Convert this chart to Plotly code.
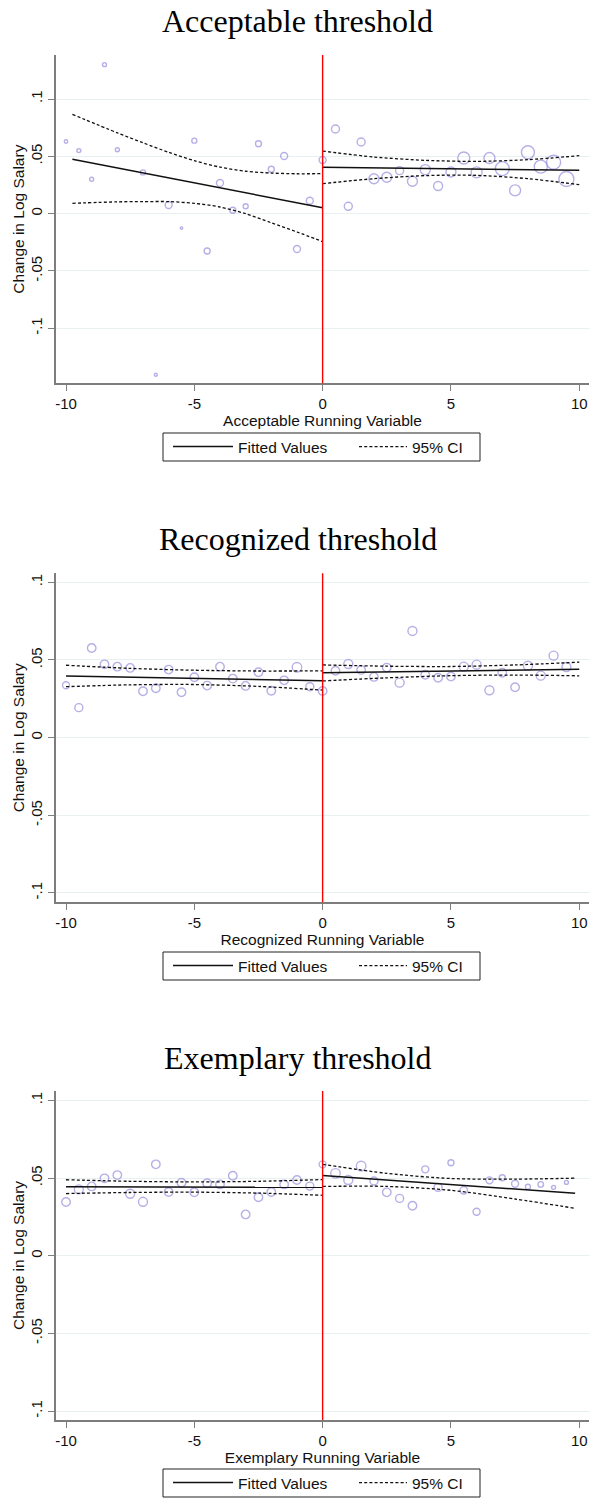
import plotly.graph_objects as go

W, H = 589, 1501

# ---------------- data ----------------
titles = ["Acceptable threshold", "Recognized threshold", "Exemplary threshold"]
xlabels = ["Acceptable Running Variable", "Recognized Running Variable", "Exemplary Running Variable"]
x_ticks = [-10, -5, 0, 5, 10]
y_ticks = [-0.1, -0.05, 0, 0.05, 0.1]
y_ticktext = ["-.1", "-.05", "0", ".05", ".1"]

# Panel 1: Acceptable
acc_x = [-10, -9.5, -9, -8.5, -8, -7, -6.5, -6, -5.5, -5, -4.5, -4, -3.5, -3, -2.5, -2, -1.5, -1, -0.5, 0,
         0.5, 1, 1.5, 2, 2.5, 3, 3.5, 4, 4.5, 5, 5.5, 6, 6.5, 7, 7.5, 8, 8.5, 9, 9.5]
acc_y = [0.0630, 0.0550, 0.0300, 0.1300, 0.0558, 0.0360, -0.1405, 0.0075, -0.0126, 0.0637, -0.0326, 0.0267,
         0.0029, 0.0064, 0.0610, 0.0387, 0.0503, -0.0309, 0.0113, 0.0468,
         0.0738, 0.0064, 0.0625, 0.0305, 0.0317, 0.0375, 0.0282, 0.0384, 0.0241, 0.0363, 0.0485, 0.0360,
         0.0485, 0.0393, 0.0203, 0.0535, 0.0410, 0.0448, 0.0302]
acc_size = [3.5, 4, 4, 4, 4, 5, 3, 7, 2.5, 5, 6, 7, 6, 5, 6, 6, 7, 7, 7, 7,
            8, 8, 8, 10, 10, 8, 10, 10, 9, 10, 12, 11, 11, 14, 11, 13, 13, 14, 15]
acc_fit_left_x = [-9.75, 0]
acc_fit_left_y = [0.0474, 0.0052]
acc_fit_right_x = [0, 10]
acc_fit_right_y = [0.0404, 0.0378]
acc_ci_left_x = [-9.75, -8, -7, -6, -5, -4, -3, -2, -1, 0]
acc_ci_left_hi = [0.0866, 0.0705, 0.0618, 0.0535, 0.0462, 0.0406, 0.0370, 0.0354, 0.0348, 0.0349]
acc_ci_left_lo = [0.0090, 0.0103, 0.0105, 0.0105, 0.0090, 0.0058, 0.0000, -0.0080, -0.0160, -0.0244]
acc_ci_right_x = [0, 2, 4, 6, 8, 10]
acc_ci_right_hi = [0.0546, 0.0494, 0.0465, 0.0456, 0.0471, 0.0506]
acc_ci_right_lo = [0.0262, 0.0305, 0.0332, 0.0334, 0.0305, 0.0253]

# Panel 2: Recognized
rec_x = [-10, -9.5, -9, -8.5, -8, -7.5, -7, -6.5, -6, -5.5, -5, -4.5, -4, -3.5, -3, -2.5, -2, -1.5, -1, -0.5, 0,
         0.5, 1, 1.5, 2, 2.5, 3, 3.5, 4, 4.5, 5, 5.5, 6, 6.5, 7, 7.5, 8, 8.5, 9, 9.5]
rec_y = [0.0337, 0.0193, 0.0577, 0.0472, 0.0457, 0.0449, 0.0299, 0.0318, 0.0438, 0.0292, 0.0389, 0.0335,
         0.0457, 0.0380, 0.0333, 0.0421, 0.0302, 0.0369, 0.0453, 0.0328, 0.0300,
         0.0431, 0.0474, 0.0436, 0.0391, 0.0451, 0.0354, 0.0687, 0.0405, 0.0386, 0.0393, 0.0457, 0.0470,
         0.0305, 0.0418, 0.0324, 0.0463, 0.0399, 0.0528, 0.0455]
rec_size = [7, 8, 8.5, 8.5, 8.5, 8.5, 8.5, 8.5, 8.5, 8.5, 8.5, 8.5, 8.5, 8.5, 8.5, 8.5, 8.5, 8.5, 9.5, 8, 8.5,
            8.5, 9, 8.5, 8.5, 8.5, 9, 9, 8.5, 8.5, 8.5, 9, 9, 9, 8.5, 8.5, 9, 9, 9, 9]
rec_fit_left_x = [-10, 0]
rec_fit_left_y = [0.0397, 0.0367]
rec_fit_right_x = [0, 10]
rec_fit_right_y = [0.0418, 0.0440]
rec_ci_left_x = [-10, -7.5, -5, -2.5, 0]
rec_ci_left_hi = [0.0466, 0.0446, 0.0434, 0.0429, 0.0430]
rec_ci_left_lo = [0.0328, 0.0340, 0.0342, 0.0330, 0.0306]
rec_ci_right_x = [0, 2.5, 5, 7.5, 10]
rec_ci_right_hi = [0.0468, 0.0460, 0.0458, 0.0468, 0.0486]
rec_ci_right_lo = [0.0365, 0.0385, 0.0399, 0.0403, 0.0398]

# Panel 3: Exemplary
exe_x = rec_x
exe_y = [0.0346, 0.0427, 0.0446, 0.0498, 0.0519, 0.0399, 0.0347, 0.0588, 0.0410, 0.0470, 0.0408, 0.0466,
         0.0459, 0.0515, 0.0266, 0.0376, 0.0410, 0.0459, 0.0487, 0.0448, 0.0588,
         0.0530, 0.0487, 0.0577, 0.0481, 0.0408, 0.0369, 0.0322, 0.0556, 0.0440, 0.0598, 0.0421, 0.0283,
         0.0485, 0.0502, 0.0463, 0.0444, 0.0459, 0.0440, 0.0472]
exe_size = [8.5, 9, 8.5, 8.5, 8.5, 9, 9, 8.5, 8.5, 8.5, 8.5, 8.5, 8.5, 8.5, 8.5, 8.5, 8.5, 8.5, 8.5, 8, 7,
            9.5, 9, 9.5, 8, 8.5, 8, 8.5, 7, 8, 6, 7.5, 7, 7, 6, 7, 5, 5.5, 4, 4]
exe_fit_left_x = [-10, 0]
exe_fit_left_y = [0.0444, 0.0440]
exe_fit_right_x = [0, 9.84]
exe_fit_right_y = [0.0517, 0.0402]
exe_ci_left_x = [-10, -7.5, -5, -2.5, 0]
exe_ci_left_hi = [0.0489, 0.0479, 0.0475, 0.0479, 0.0490]
exe_ci_left_lo = [0.0400, 0.0407, 0.0409, 0.0403, 0.0389]
exe_ci_right_x = [0, 2.5, 5, 7.5, 9.84]
exe_ci_right_hi = [0.0588, 0.0530, 0.0497, 0.0493, 0.0499]
exe_ci_right_lo = [0.0446, 0.0446, 0.0421, 0.0365, 0.0305]

# ---------------- layout geometry (pixels) ----------------
plot_left = 56
panel_px = [(55, 383.3), (573.3, 902.3), (1091, 1420)]
y_ranges = [[-0.148, 0.1384], [-0.106, 0.1058], [-0.1057, 0.106]]
x_range = [-10.39, 10.38]
title_px = [21, 539, 1058]
legend_box_px = [(433, 461), (952, 980), (1469, 1497)]
legend_box_x = (163, 480)
legend_fit_x = 168
legend_ci_x = 354

panels = [
    dict(x=acc_x, y=acc_y, s=acc_size,
         fl=(acc_fit_left_x, acc_fit_left_y), fr=(acc_fit_right_x, acc_fit_right_y),
         cl=(acc_ci_left_x, acc_ci_left_hi, acc_ci_left_lo), cr=(acc_ci_right_x, acc_ci_right_hi, acc_ci_right_lo)),
    dict(x=rec_x, y=rec_y, s=rec_size,
         fl=(rec_fit_left_x, rec_fit_left_y), fr=(rec_fit_right_x, rec_fit_right_y),
         cl=(rec_ci_left_x, rec_ci_left_hi, rec_ci_left_lo), cr=(rec_ci_right_x, rec_ci_right_hi, rec_ci_right_lo)),
    dict(x=exe_x, y=exe_y, s=exe_size,
         fl=(exe_fit_left_x, exe_fit_left_y), fr=(exe_fit_right_x, exe_fit_right_y),
         cl=(exe_ci_left_x, exe_ci_left_hi, exe_ci_left_lo), cr=(exe_ci_right_x, exe_ci_right_hi, exe_ci_right_lo)),
]

MARKER_COLOR = "#958fdc"
AXIS_COLOR = "#7d7d7d"
GRID_COLOR = "#e8f1f2"
TEXT_COLOR = "#111111"
SANS = "Liberation Sans, Arial, sans-serif"
SERIF = "Liberation Serif, Times New Roman, serif"
DASH = "3px,2.2px"
FS = 15.5

fig = go.Figure()
layout = dict(width=W, height=H, margin=dict(l=0, r=0, t=0, b=0),
              paper_bgcolor="white", plot_bgcolor="white", showlegend=True,
              annotations=[], shapes=[])


def lname(n):
    return "legend" if n == 1 else f"legend{n}"


for i, p in enumerate(panels):
    k = i + 1
    xa = "x" if k == 1 else f"x{k}"
    ya = "y" if k == 1 else f"y{k}"
    lg_fit = lname(2 * k - 1)
    lg_ci = lname(2 * k)

    fig.add_trace(go.Scatter(
        x=p["x"], y=p["y"], mode="markers", xaxis=xa, yaxis=ya, showlegend=False,
        marker=dict(symbol="circle-open", size=p["s"], color=MARKER_COLOR, line=dict(width=1.4, color=MARKER_COLOR)),
        hoverinfo="x+y"))
    fig.add_trace(go.Scatter(x=p["fl"][0], y=p["fl"][1], mode="lines", xaxis=xa, yaxis=ya,
                             line=dict(color="#111111", width=1.5), name="Fitted Values",
                             legend=lg_fit, legendgroup=f"fit{k}", showlegend=True))
    fig.add_trace(go.Scatter(x=p["fr"][0], y=p["fr"][1], mode="lines", xaxis=xa, yaxis=ya,
                             line=dict(color="#111111", width=1.5), name="Fitted Values",
                             legend=lg_fit, legendgroup=f"fit{k}", showlegend=False))
    first = True
    for cx, hi, lo in (p["cl"], p["cr"]):
        for arr in (hi, lo):
            fig.add_trace(go.Scatter(x=cx, y=arr, mode="lines", xaxis=xa, yaxis=ya,
                                     line=dict(color="#111111", width=1.3, dash=DASH, shape="spline", smoothing=0.8),
                                     name="95% CI", legend=lg_ci, legendgroup=f"ci{k}", showlegend=first))
            first = False

    top, bot = panel_px[i]
    layout["xaxis" if k == 1 else f"xaxis{k}"] = dict(
        domain=[plot_left / W, 1.0], anchor=ya, range=x_range,
        tickvals=x_ticks, ticktext=[str(v) for v in x_ticks], ticklabeloverflow="allow",
        showline=True, linecolor=AXIS_COLOR, linewidth=1.6, ticks="outside", ticklen=6, tickwidth=1.3,
        tickcolor=AXIS_COLOR, showgrid=False, zeroline=False, automargin=False,
        tickfont=dict(family=SANS, size=15, color=TEXT_COLOR),
        title=dict(text=xlabels[i], font=dict(family=SANS, size=FS, color=TEXT_COLOR), standoff=0))
    layout["yaxis" if k == 1 else f"yaxis{k}"] = dict(
        domain=[1 - bot / H, 1 - top / H], anchor=xa, range=y_ranges[i],
        tickvals=y_ticks, ticktext=y_ticktext, tickangle=-90, ticklabeloverflow="allow",
        showline=True, linecolor=AXIS_COLOR, linewidth=1.6, ticks="outside", ticklen=6, tickwidth=1.3,
        tickcolor=AXIS_COLOR, showgrid=True, gridcolor=GRID_COLOR, gridwidth=1, zeroline=False, automargin=False,
        tickfont=dict(family=SANS, size=15, color=TEXT_COLOR),
        title=dict(text="Change in Log Salary", font=dict(family=SANS, size=FS, color=TEXT_COLOR), standoff=0))

    btop, bbot = legend_box_px[i]
    ymid = 1 - (btop + bbot) / 2 / H
    common = dict(y=ymid, yanchor="middle", xanchor="left", orientation="h",
                  bgcolor="rgba(0,0,0,0)", borderwidth=0,
                  font=dict(family=SANS, size=FS, color=TEXT_COLOR),
                  itemclick=False, itemdoubleclick=False)
    layout[lg_fit] = dict(x=legend_fit_x / W, itemwidth=60, **common)
    layout[lg_ci] = dict(x=legend_ci_x / W, itemwidth=48, **common)
    layout["shapes"].append(dict(
        type="rect", xref="paper", yref="paper",
        x0=legend_box_x[0] / W, x1=legend_box_x[1] / W, y0=1 - bbot / H, y1=1 - btop / H,
        line=dict(color="#222222", width=1), fillcolor="rgba(0,0,0,0)", layer="below"))

    layout["annotations"].append(dict(
        text=titles[i], xref="paper", yref="paper", x=297.5 / W, y=1 - title_px[i] / H,
        xanchor="center", yanchor="middle", showarrow=False,
        font=dict(family=SERIF, size=32, color="black")))
    layout["shapes"].append(dict(
        type="line", xref=xa, yref=f"{ya} domain", x0=0, x1=0, y0=0, y1=1,
        line=dict(color="red", width=1.4), layer="above"))

fig.update_layout(**layout)
fig.write_html("out.html", config={"displayModeBar": False},
               post_script="document.body.style.margin='0';document.body.style.overflow='hidden';")
